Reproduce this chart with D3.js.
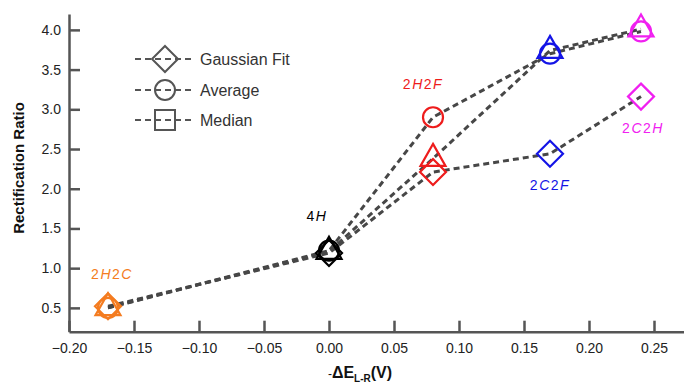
<!DOCTYPE html>
<html>
<head>
<meta charset="utf-8">
<script src="https://cdn.jsdelivr.net/npm/d3@7"></script>
<style>
  body { margin:0; background:#fff; }
  svg text { font-family: "Liberation Sans", Arial, sans-serif; }
</style>
</head>
<body>
<svg id="Vis" width="684" height="385"></svg>
<script>
// data
var categories = ["2H2C", "4H", "2H2F", "2C2F", "2C2H"];
var deltaE     = [-0.17, 0.00, 0.08, 0.17, 0.24];
var gaussFit   = [0.52, 1.19, 2.21, 2.44, 3.16];
var average    = [0.50, 1.22, 2.90, 3.70, 3.98];
var median     = [0.50, 1.21, 2.38, 3.74, 4.01];
var xTicks = [-0.20, -0.15, -0.10, -0.05, 0.00, 0.05, 0.10, 0.15, 0.20, 0.25];
var yTicks = [0.5, 1.0, 1.5, 2.0, 2.5, 3.0, 3.5, 4.0];
var legendNames = ["Gaussian Fit", "Average", "Median"];

var pointColor = ["#F47C20", "#000000", "#EE1C1C", "#1414E6", "#F020F0"];
var lineColor = "#474747";
var axisColor = "#555";

var svg = d3.select("#Vis");

var x = d3.scaleLinear().domain([-0.2, 0.275]).range([69, 686.5]);
var y = d3.scaleLinear().domain([0.2, 4.2]).range([331.7, 14]);

// axes
var gx = svg.append("g").attr("transform", "translate(0," + y(0.2) + ")")
  .call(d3.axisBottom(x).tickValues(xTicks).tickFormat(d3.format(".2f"))
        .tickSizeInner(-11).tickSizeOuter(0).tickPadding(14));
var gy = svg.append("g").attr("transform", "translate(" + x(-0.2) + ",0)")
  .call(d3.axisLeft(y).tickValues(yTicks).tickFormat(d3.format(".1f"))
        .tickSizeInner(-11).tickSizeOuter(0).tickPadding(8));

[gx, gy].forEach(function(g){
  g.select(".domain").attr("stroke", axisColor).attr("stroke-width", 2.5);
  g.selectAll(".tick line").attr("stroke", axisColor).attr("stroke-width", 2.5);
  g.selectAll(".tick text").attr("fill", "#222").style("font-size", "14px")
   .style("font-family", "'Liberation Sans', Arial, sans-serif");
});
gx.selectAll(".tick text").attr("dy", "0.5em");

// axis titles
svg.append("text")
   .attr("transform", "translate(24," + 168 + ") rotate(-90)")
   .attr("text-anchor", "middle")
   .style("font-size", "15px").style("font-weight", "bold").attr("fill", "#111")
   .text("Rectification Ratio");

var xt = svg.append("text").attr("x", 360).attr("y", 378)
   .attr("text-anchor", "middle").attr("fill", "#111")
   .style("font-size", "16px").style("font-weight", "bold");
xt.append("tspan").style("font-weight", "normal").style("font-size", "12px").text("-");
xt.append("tspan").text("ΔE");
xt.append("tspan").attr("dy", 4).style("font-size", "10px").text("L-R");
xt.append("tspan").attr("dy", -4).text("(V)");

// dashed connecting lines
var series = [gaussFit, average, median];
var line = d3.line().x(function(d){ return x(d[0]); }).y(function(d){ return y(d[1]); });
series.forEach(function(s){
  svg.append("path")
     .datum(deltaE.map(function(v, i){ return [v, s[i]]; }))
     .attr("d", line)
     .attr("fill", "none")
     .attr("stroke", lineColor)
     .attr("stroke-width", 3)
     .attr("stroke-dasharray", "6,4");
});

// marker shapes
function diamondPath(h){ return "M0," + (-h) + "L" + h + ",0L0," + h + "L" + (-h) + ",0Z"; }
function trianglePath(w, h){ return "M0," + (-h * 2 / 3) + "L" + (w / 2) + "," + (h / 3) + "L" + (-w / 2) + "," + (h / 3) + "Z"; }

for (var i = 0; i < categories.length; i++) {
  var c = pointColor[i];
  svg.append("path").attr("d", diamondPath(13))
     .attr("transform", "translate(" + x(deltaE[i]) + "," + y(gaussFit[i]) + ")")
     .attr("fill", "none").attr("stroke", c).attr("stroke-width", 2.2);
  svg.append("circle").attr("cx", x(deltaE[i])).attr("cy", y(average[i])).attr("r", 10)
     .attr("fill", "none").attr("stroke", c).attr("stroke-width", 2.2);
  svg.append("path").attr("d", trianglePath(25, 22))
     .attr("transform", "translate(" + x(deltaE[i]) + "," + y(median[i]) + ")")
     .attr("fill", "none").attr("stroke", c).attr("stroke-width", 2.2);
}

// point labels (offset from the point)
var labelDx = [4, -12, -10, 0, 2];
var labelDy = [-27, -30, -28, 36, 36];
var labelRef = [gaussFit, median, average, gaussFit, gaussFit];
categories.forEach(function(name, i){
  var t = svg.append("text")
     .attr("x", x(deltaE[i]) + labelDx[i])
     .attr("y", y(labelRef[i][i]) + labelDy[i])
     .attr("text-anchor", "middle")
     .attr("fill", pointColor[i])
     .style("font-size", "14px")
     .style("letter-spacing", "1.5px");
  name.split("").forEach(function(ch){
    t.append("tspan").style("font-style", /[A-Z]/.test(ch) ? "italic" : "normal").text(ch);
  });
});

// legend
var legX = 165, legY = [59, 90, 120];
legendNames.forEach(function(name, i){
  var g = svg.append("g").attr("transform", "translate(" + legX + "," + legY[i] + ")");
  g.append("line").attr("x1", -30).attr("x2", 28).attr("y1", 0).attr("y2", 0)
   .attr("stroke", "#555").attr("stroke-width", 2).attr("stroke-dasharray", "6,4");
  if (i == 0) g.append("path").attr("d", diamondPath(13));
  else if (i == 1) g.append("circle").attr("r", 10);
  else g.append("rect").attr("x", -10).attr("y", -10).attr("width", 20).attr("height", 20);
  g.selectAll("path,circle,rect").attr("fill", "none").attr("stroke", "#555").attr("stroke-width", 2);
  g.append("text").attr("x", 35).attr("y", 0).attr("dy", "0.35em")
   .attr("fill", "#333").style("font-size", "16px").text(name);
});
</script>
</body>
</html>
